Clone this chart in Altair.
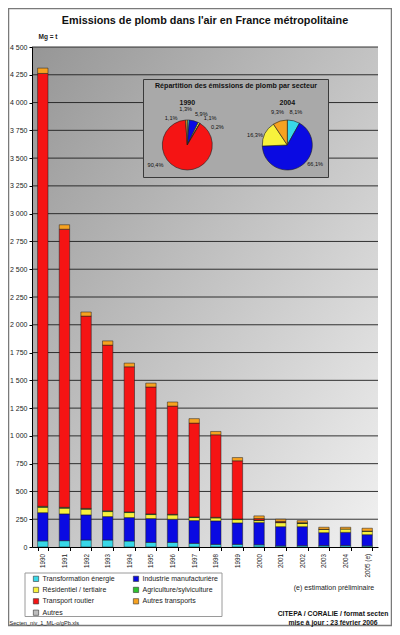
import json
import altair as alt
import pandas as pd

FONT = "Liberation Sans"

# ---------------- data ----------------
years = ["1990", "1991", "1992", "1993", "1994", "1995", "1996", "1997",
         "1998", "1999", "2000", "2001", "2002", "2003", "2004", "2005 (e)"]

sectors = ["Transformation énergie", "Industrie manufacturière",
           "Résidentiel / tertiaire", "Agriculture/sylviculture",
           "Transport routier", "Autres transports", "Autres"]

colors = ["#38D8E8", "#0A0AE2", "#F8F23C", "#2EC22E", "#F51414", "#F7A220", "#BDBDBD"]

energie = [55, 57, 63, 63, 54, 42, 42, 33, 24, 24, 20, 10, 12, 13, 14, 10]
industrie = [254, 241, 226, 211, 211, 214, 208, 205, 211, 193, 200, 173, 171, 116, 118, 101]
residentiel = [48, 51, 51, 45, 45, 36, 39, 27, 27, 30, 18, 36, 30, 29, 29, 30]
agriculture = [9, 8, 7, 7, 6, 6, 5, 5, 5, 5, 4, 3, 3, 1, 0, 2]
routier = [3896, 2503, 1731, 1491, 1306, 1142, 974, 845, 743, 524, 14, 8, 2, 0, 0, 0]
autres_transports = [48, 40, 37, 38, 33, 35, 37, 40, 30, 29, 24, 20, 19, 19, 17, 26]
autres = [0, 0, 0, 0, 0, 0, 0, 0, 0, 0, 0, 0, 0, 0, 0, 0]

y_ticks = [0, 250, 500, 750, 1000, 1250, 1500, 1750, 2000, 2250, 2500,
           2750, 3000, 3250, 3500, 3750, 4000, 4250, 4500]

pie_1990 = [1.3, 5.9, 1.1, 0.2, 90.4, 1.1, 0.0]
pie_2004 = [8.1, 66.1, 16.3, 0.0, 0.0, 9.3, 0.0]

title_text = "Emissions de plomb dans l'air en France métropolitaine"
inset_title = "Répartition des émissions de plomb par secteur"
note_text = "(e) estimation préliminaire"
source_text = "CITEPA / CORALIE / format secten"
update_text = "mise à jour : 23 février 2006"
file_text = "Secten_niv_1_ML-o/gPb.xls"

# ---------------- tables ----------------
series = [energie, industrie, residentiel, agriculture, routier, autres_transports, autres]
rows = []
for i, (s, vals) in enumerate(zip(sectors, series)):
    for yr, v in zip(years, vals):
        rows.append({"year": yr, "sector": s, "order": i, "value": v})
bars_df = pd.DataFrame(rows)
ticks_df = pd.DataFrame({"v": y_ticks[1:]})
one = pd.DataFrame({"k": [0]})

W, H = 346, 500

y_scale = alt.Scale(domain=[0, 4500], nice=False, zero=True)
y_axis = alt.Axis(values=y_ticks, grid=False, labelExpr="replace(format(datum.value, ','), ',', ' ')",
                  labelFont=FONT, labelFontSize=7, labelColor="#222", labelPadding=2,
                  tickSize=3, tickColor="#000", domainColor="#000", domainWidth=1,
                  titleAngle=0, titleX=6, titleY=-11, titleAlign="left", titleBaseline="middle",
                  titleFont=FONT, titleFontSize=6.5, titleFontWeight="bold", titleColor="#222",
                  zindex=1)
x_axis = alt.Axis(labelAngle=270, labelFont=FONT, labelFontSize=6.3, labelColor="#222",
                  labelPadding=3, tickSize=3.5, tickBand="extent", tickColor="#000",
                  domainColor="#000", domainWidth=1, zindex=1)

legend = alt.Legend(title=None, orient="none", legendX=0.5, legendY=528, columns=2,
                    direction="horizontal",
                    symbolType="square", symbolSize=28, symbolStrokeWidth=0.6,
                    symbolStrokeColor="#333", labelFont=FONT, labelFontSize=7,
                    labelColor="#222", rowPadding=2.4, columnPadding=16, labelOffset=3,
                    padding=0, labelLimit=200)
color = alt.Color("sector:N", scale=alt.Scale(domain=sectors, range=colors), legend=legend)

theta_scale = alt.Scale(domain=[0, 1])


def rect_box(x, x2, y, y2, **style):
    return alt.Chart(one).mark_rect(**style).encode(
        x=alt.value(x), x2=alt.value(x2), y=alt.value(y), y2=alt.value(y2))


def label(text, x, y, **style):
    return alt.Chart(pd.DataFrame({"t": [text]})).mark_text(font=FONT, **style).encode(
        text="t:N", x=alt.value(x), y=alt.value(y))


frame = rect_box(-23.5, 359.5, -38.5, 578.5, fillOpacity=0, stroke="#7a7a7a", strokeWidth=1.5)

background = rect_box(0, W, 0, H, fill=alt.LinearGradient(
    gradient="linear",
    stops=[alt.GradientStop(color="#969696", offset=0),
           alt.GradientStop(color="#f1f1f1", offset=1)],
    x1=0, y1=0, x2=1, y2=1))

grid = alt.Chart(ticks_df).mark_rule(color="#1e1e1e", strokeWidth=0.9).encode(
    y=alt.Y("v:Q", scale=y_scale, axis=y_axis, title="Mg = t"))

bars = alt.Chart(bars_df).transform_filter("datum.value > 0").mark_bar(
    stroke="#1a1a1a", strokeWidth=0.5).encode(
    x=alt.X("year:N", sort=years, title=None,
            scale=alt.Scale(paddingInner=0.52, paddingOuter=0.26), axis=x_axis),
    y=alt.Y("value:Q", stack="zero", scale=y_scale, axis=y_axis, title="Mg = t"),
    color=color,
    order=alt.Order("order:Q", sort="ascending"),
)

inset = rect_box(111.5, 296.5, 32.5, 130.5, fill="#a9a9a9", stroke="#3a3a3a", strokeWidth=1)
inset_t = label(inset_title, 204, 39, fontSize=7.1, fontWeight="bold", color="#111",
                align="center", baseline="middle")


def pie_layers(vals, yr, cx, cy, offsets):
    df = pd.DataFrame({"sector": sectors, "order": list(range(len(sectors))), "pct": vals})
    base = (alt.Chart(df)
            .transform_filter("datum.pct > 0")
            .transform_joinaggregate(total="sum(pct)")
            .transform_stack(stack="pct", groupby=[], as_=["s0", "s1"],
                             sort=[alt.SortField("order", order="ascending")])
            .transform_calculate(a0="datum.s0 / datum.total",
                                 a1="datum.s1 / datum.total",
                                 mid="(datum.s0 + datum.s1) / (2 * datum.total)",
                                 label="replace(format(datum.pct, '.1f'), '.', ',') + '%'"))
    arc = base.mark_arc(radius=25, stroke="#1e1e1e", strokeWidth=0.6).encode(
        theta=alt.Theta("a0:Q", scale=theta_scale, stack=False),
        theta2=alt.Theta2("a1:Q"),
        color=color, x=alt.value(cx), y=alt.value(cy))

    def txt(expr, dx, dy):
        return base.transform_filter(expr).mark_text(
            radius=34, font=FONT, fontSize=5.6, color="#111", dx=dx, dy=dy,
            align="center", baseline="middle").encode(
            theta=alt.Theta("mid:Q", scale=theta_scale, stack=False),
            text="label:N", x=alt.value(cx), y=alt.value(cy))

    special = list(offsets.keys())
    layers = [arc, txt(f"indexof({json.dumps(special, ensure_ascii=False)}, datum.sector) < 0", 0, 0)]
    for s, (dx, dy) in offsets.items():
        layers.append(txt(f"datum.sector == {json.dumps(s, ensure_ascii=False)}", dx, dy))
    layers.append(label(yr, cx, cy - 42.5, fontSize=7, fontWeight="bold", color="#111",
                        align="center", baseline="middle"))
    return layers


pie1 = pie_layers(pie_1990, "1990", 155.3, 98,
                  {"Transformation énergie": (-3, -2),
                   "Industrie manufacturière": (5, 1.5),
                   "Résidentiel / tertiaire": (7, 3),
                   "Agriculture/sylviculture": (13, 11),
                   "Transport routier": (-24, -13),
                   "Autres transports": (-15, 7)})
pie2 = pie_layers(pie_2004, "2004", 255.3, 98,
                  {"Industrie manufacturière": (10, -10),
                   "Résidentiel / tertiaire": (-2, 5)})

legend_box = rect_box(-7, 190, 526, 569.5, fill="white", stroke="#9a9a9a", strokeWidth=1)

title = label(title_text, 173, -23, fontSize=10.8, fontWeight="bold", color="#111",
              align="center", baseline="alphabetic")
note = label(note_text, 302, 540.5, fontSize=7, color="#222", align="center", baseline="middle")
source = label(source_text, 301, 566.5, fontSize=6.8, fontWeight="bold", color="#111",
               align="center", baseline="middle")
update = label(update_text, 301, 576, fontSize=6.8, fontWeight="bold", color="#111",
               align="center", baseline="middle")
fname = label(file_text, -22.5, 575.5, fontSize=5.6, color="#222", align="left", baseline="middle")

chart = alt.layer(
    frame, background, grid, bars, legend_box, inset, inset_t, *pie1, *pie2,
    title, note, source, update, fname,
).properties(
    width=W, height=H,
    autosize=alt.AutoSizeParams(type="none"),
    padding={"left": 24, "top": 39, "right": 14, "bottom": 80},
    background="white",
).configure_view(strokeWidth=0)

chart.save("out.html", embed_options={"renderer": "svg", "actions": False})
